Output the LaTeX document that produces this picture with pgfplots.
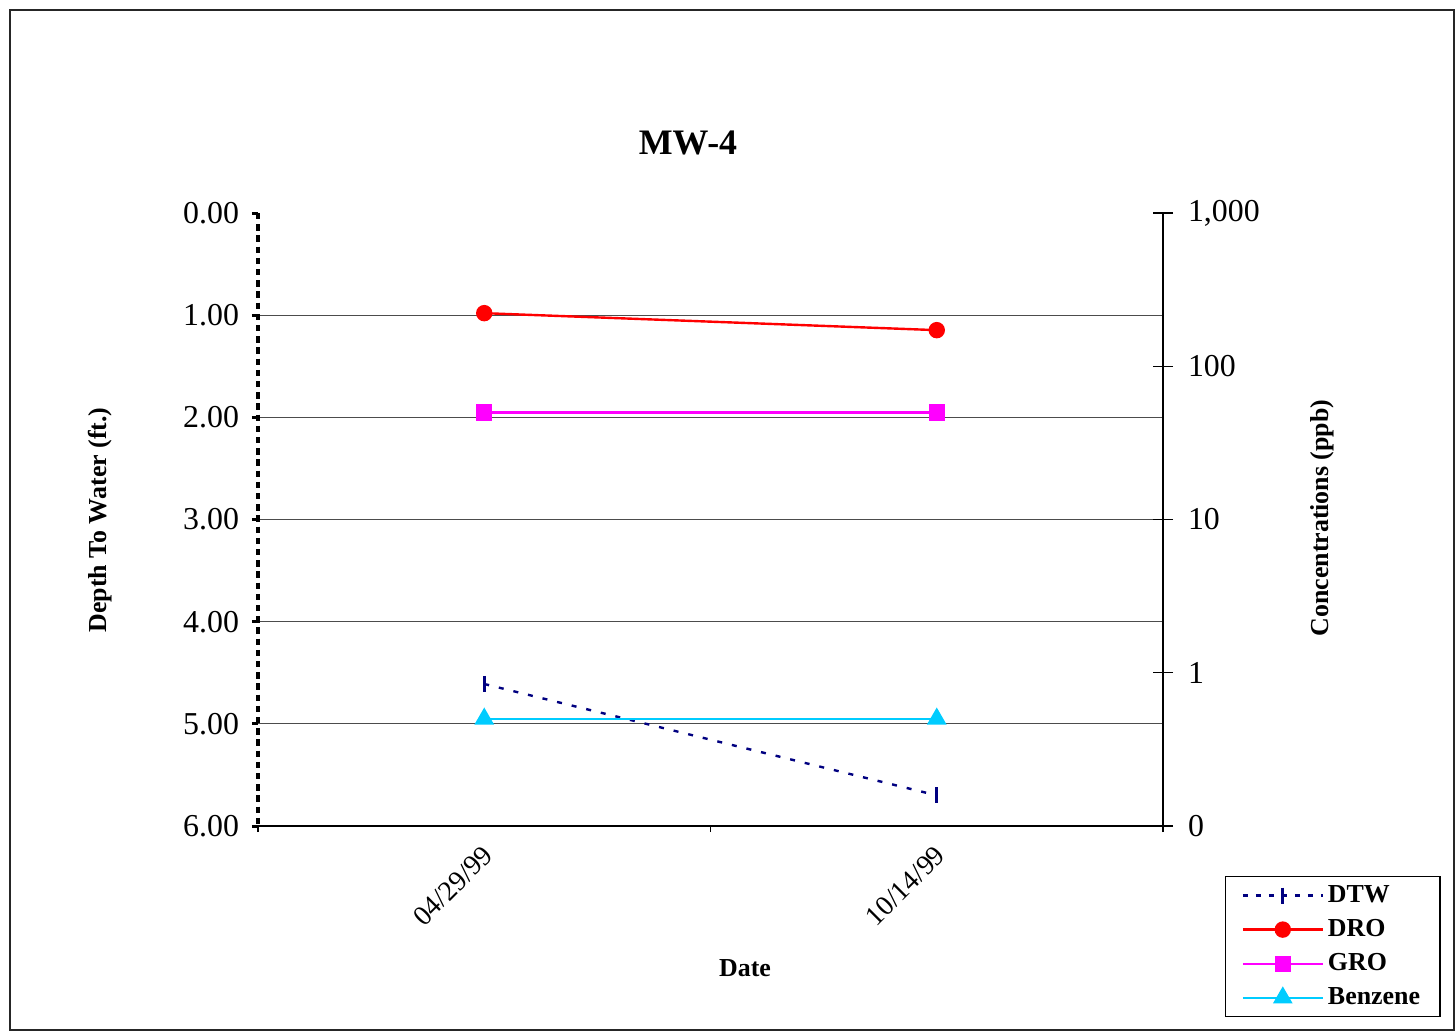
\documentclass[border=0pt]{standalone}
\usepackage{fontspec}
\setmainfont{Liberation Serif}
\usepackage{pgfplots}
\pgfplotsset{compat=1.18}
\definecolor{dtw}{RGB}{0,0,128}
\definecolor{benz}{RGB}{0,204,255}
\definecolor{gro}{RGB}{255,0,255}
\definecolor{dro}{RGB}{255,0,0}
\begin{document}
\begin{tikzpicture}
\useasboundingbox (-129bp,-103bp) rectangle (598.5bp,413bp);
\draw[line width=0.6bp, black!85] (-124bp,-102bp) rectangle (598bp,408bp);
\begin{axis}[
  at={(0,0)}, anchor=south west, scale only axis,
  width=452.5bp, height=306.5bp,
  xmin=0, xmax=2, ymin=0, ymax=6, y dir=reverse,
  axis x line*=bottom, axis y line*=left,
  x axis line style={-, line width=0.6bp},
  y axis line style={-, line width=1.6bp, dash pattern=on 3.2bp off 2.4bp},
  xtick={0,1,2}, xticklabels={},
  extra x ticks={0.5,1.5}, extra x tick labels={04/29/99,10/14/99},
  extra x tick style={major tick length=0pt, tick label style={rotate=45, anchor=east, font=\fontsize{14}{16}\selectfont, yshift=-10bp, xshift=-4bp}},
  xtick style={line width=0.6bp, black},
  tick align=outside, major tick length=3bp,
  ytick={1,2,3,4,5,6},
  extra y ticks={0}, extra y tick style={ymajorgrids=false},
  ymajorgrids, grid style={line width=0.5bp, black!70},
  ytick style={line width=1.5bp, black},
  /pgf/number format/assume math mode=true,
  y tick label style={/pgf/number format/fixed, /pgf/number format/fixed zerofill, /pgf/number format/precision=2, font=\fontsize{16}{18}\selectfont, xshift=-3bp},
]
\addplot[color=dtw, line width=1.2bp, dash pattern=on 2.5bp off 5bp, mark=|, mark size=4bp, mark options={solid, line width=1.4bp}]
  coordinates {(0.5,4.61) (1.5,5.70)};
\end{axis}
\begin{axis}[
  at={(0,0)}, anchor=south west, scale only axis,
  width=452.5bp, height=306.5bp,
  xmin=0, xmax=2, ymode=log, ymin=0.1, ymax=1000,
  axis y line*=right, axis x line=none,
  y axis line style={-, line width=0.6bp},
  ytick={0.1,1,10,100,1000}, yticklabels={0,1,10,100,{1,000}},
  yminorticks=false,
  tick align=center, major tick length=10bp,
  ytick style={line width=0.6bp, black},
  y tick label style={font=\fontsize{16}{18}\selectfont, xshift=4bp},
  legend style={at={(1.0685,-0.0816)}, anchor=north west, draw=black, line width=0.6bp,
    font=\bfseries\fontsize{13}{15}\selectfont, inner xsep=8bp, inner ysep=2.5bp, row sep=3bp},
  legend cell align=left,
  legend image code/.code={\draw[mark repeat=2,mark phase=2] plot coordinates {(0bp,0bp) (20bp,0bp) (40bp,0bp)};},
]
\addlegendimage{color=dtw, line width=1.2bp, dash pattern=on 2.5bp off 4bp, mark=|, mark size=4bp, mark options={solid, line width=1.4bp}}
\addlegendentry{DTW}
\addplot[color=dro, line width=1.2bp, mark=*, mark size=3.5bp, mark options={fill=dro}]
  coordinates {(0.5,222) (1.5,172)};
\addlegendentry{DRO}
\addplot[color=gro, line width=1.2bp, mark=square*, mark size=3.5bp, mark options={fill=gro}]
  coordinates {(0.5,50) (1.5,50)};
\addlegendentry{GRO}
\addplot[color=benz, line width=1.2bp, mark=triangle*, mark size=4.5bp, mark options={fill=benz}]
  coordinates {(0.5,0.5) (1.5,0.5)};
\addlegendentry{Benzene}
\end{axis}
\node[font=\bfseries\fontsize{18}{20}\selectfont] at (215bp,341.5bp) {MW-4};
\node[font=\bfseries\fontsize{13}{15}\selectfont, rotate=90] at (-79bp,153bp) {Depth To Water (ft.)};
\node[font=\bfseries\fontsize{13}{15}\selectfont, rotate=90] at (532bp,154bp) {Concentrations (ppb)};
\node[font=\bfseries\fontsize{13}{15}\selectfont] at (243.5bp,-71bp) {Date};
\end{tikzpicture}
\end{document}
